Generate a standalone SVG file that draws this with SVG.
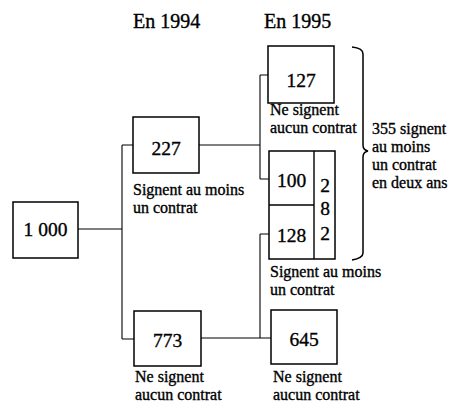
<svg xmlns="http://www.w3.org/2000/svg" width="449" height="403" viewBox="0 0 449 403">
<style>
text{font-family:"Liberation Serif","Times New Roman",serif;fill:#000;stroke:#000;stroke-width:0.35}
.h{font-size:20px}
.n{font-size:19.5px;text-anchor:middle}
.l{font-size:16px}
.box{fill:#fff;stroke:#000;stroke-width:1.5}
.c{fill:none;stroke:#000;stroke-width:1.1}
</style>
<rect width="449" height="403" fill="#fff"/>
<g id="headers">
<text class="h" x="133" y="28">En 1994</text>
<text class="h" x="264" y="28">En 1995</text>
</g>
<g id="connectors">
<path class="c" d="M78,229 H122 M122,145 V339 M122,145 H133 M122,339 H134"/>
<path class="c" d="M199,145 H260 M260,75 V179 M260,75 H268 M260,179 H269"/>
<path class="c" d="M201,338 H271 M260,234 V338 M260,234 H269"/>
</g>
<g id="n1000">
<rect class="box" x="13" y="202" width="65" height="56"/>
<text class="n" x="45.5" y="236">1 000</text>
</g>
<g id="n227">
<rect class="box" x="133" y="117" width="66" height="56"/>
<text class="n" x="166" y="155">227</text>
<text class="l" x="133" y="195">Signent au moins</text>
<text class="l" x="133" y="213">un contrat</text>
</g>
<g id="n773">
<rect class="box" x="134" y="311" width="67" height="55"/>
<text class="n" x="167.5" y="347">773</text>
<text class="l" x="135" y="382">Ne signent</text>
<text class="l" x="135" y="400">aucun contrat</text>
</g>
<g id="n127">
<rect class="box" x="268" y="46" width="66" height="57"/>
<text class="n" x="301" y="87">127</text>
<text class="l" x="270" y="115">Ne signent</text>
<text class="l" x="270" y="133">aucun contrat</text>
</g>
<g id="n100-128">
<rect class="box" x="269" y="151" width="66" height="108"/>
<path class="c" d="M314,151 V259 M269,205 H314" style="stroke-width:1.4"/>
<text class="n" x="291.5" y="187">100</text>
<text class="n" x="291.5" y="242">128</text>
<text class="n" x="325" y="192">2</text>
<text class="n" x="325" y="215">8</text>
<text class="n" x="325" y="240">2</text>
<text class="l" x="270" y="277">Signent au moins</text>
<text class="l" x="270" y="295">un contrat</text>
</g>
<g id="n645">
<rect class="box" x="271" y="310" width="66" height="54"/>
<text class="n" x="304" y="346">645</text>
<text class="l" x="273" y="382">Ne signent</text>
<text class="l" x="273" y="400">aucun contrat</text>
</g>
<g id="brace">
<path class="c" d="M352,47 Q363,48 363,54 L363,145 Q363,150 368,151 Q363,152 363,157 L363,253 Q363,258 352,260" style="stroke-width:1.5"/>
<text class="l" x="372" y="134">355 signent</text>
<text class="l" x="372" y="152">au moins</text>
<text class="l" x="372" y="170">un contrat</text>
<text class="l" x="372" y="188">en deux ans</text>
</g>
</svg>
